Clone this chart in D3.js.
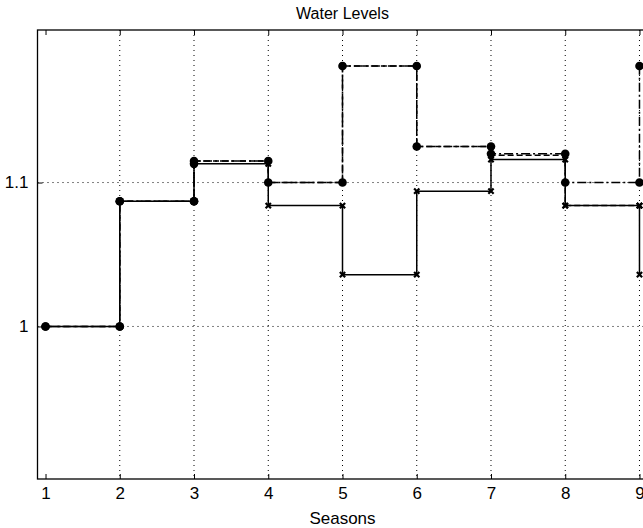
<!DOCTYPE html>
<html>
<head>
<meta charset="utf-8">
<script src="https://cdn.jsdelivr.net/npm/d3@7"></script>
<style>
  body { margin: 0; background: #fff; }
  svg { display: block; font-family: "Liberation Sans", Arial, sans-serif; }
</style>
</head>
<body>
<div id="chart"></div>
<script>
// seasons on the x axis
var seasons = [1, 2, 3, 4, 5, 6, 7, 8, 9];

// water level series
var levelsSolid   = [1, 1.087, 1.113, 1.084, 1.036, 1.094, 1.116, 1.084, 1.036];
var levelsDashed  = [1, 1.087, 1.115, 1.1, 1.181, 1.125, 1.119, 1.084, 1.084];
var levelsDashDot = [1, 1.087, 1.115, 1.1, 1.181, 1.125, 1.120, 1.1, 1.181];

// tick labels
var xTicks = [1, 2, 3, 4, 5, 6, 7, 8, 9];
var yTicks = [1, 1.1];

// plot frame (the right edge runs past the window, as in the picture)
var width = 643, height = 528;
var plotLeft = 37.5, plotRight = 647.5, plotTop = 30, plotBottom = 479;

var svg = d3.select("#chart").append("svg")
  .attr("width", width)
  .attr("height", height);

var x = d3.scaleLinear().domain([0.892, 9.108]).range([plotLeft, plotRight]);
var y = d3.scaleLinear().domain([0.894, 1.206]).range([plotBottom, plotTop]);

// dotted grid
svg.append("g")
  .selectAll("line")
  .data(xTicks.filter(function (d) { return d !== 1; }))
  .enter().append("line")
  .attr("x1", function (d) { return x(d); })
  .attr("x2", function (d) { return x(d); })
  .attr("y1", plotTop).attr("y2", plotBottom)
  .attr("stroke", "#000").attr("stroke-width", 1)
  .attr("stroke-dasharray", "1,4");

svg.append("g")
  .selectAll("line")
  .data(yTicks)
  .enter().append("line")
  .attr("y1", function (d) { return y(d); })
  .attr("y2", function (d) { return y(d); })
  .attr("x1", plotLeft).attr("x2", plotRight)
  .attr("stroke", "#000").attr("stroke-width", 1)
  .attr("stroke-dasharray", "1,4");

// axes with inward ticks
var xAxis = svg.append("g")
  .attr("transform", "translate(0," + plotBottom + ")")
  .call(d3.axisBottom(x).tickValues(xTicks).tickSizeInner(-5).tickSizeOuter(0).tickPadding(8));
var xTop = svg.append("g")
  .attr("transform", "translate(0," + plotTop + ")")
  .call(d3.axisTop(x).tickValues(xTicks).tickSizeInner(-5).tickSizeOuter(0).tickFormat(""));
var yAxis = svg.append("g")
  .attr("transform", "translate(" + plotLeft + ",0)")
  .call(d3.axisLeft(y).tickValues(yTicks).tickSizeInner(-5).tickSizeOuter(0).tickPadding(9)
    .tickFormat(function (d) { return d === 1 ? "1" : d3.format(".1f")(d); }));

[xAxis, xTop, yAxis].forEach(function (g) {
  g.select(".domain").remove();
  g.selectAll(".tick line").attr("stroke", "#000").attr("stroke-width", 1);
  g.selectAll(".tick text")
    .attr("fill", "#000")
    .attr("font-size", 17)
    .attr("font-family", "Liberation Sans, Arial, sans-serif");
});

// frame
svg.append("rect")
  .attr("x", plotLeft).attr("y", plotTop)
  .attr("width", plotRight - plotLeft).attr("height", plotBottom - plotTop)
  .attr("fill", "none").attr("stroke", "#000").attr("stroke-width", 1.3);

// stairs
var stair = d3.line()
  .x(function (d) { return x(d[0]); })
  .y(function (d) { return y(d[1]); })
  .curve(d3.curveStepAfter);

function corners(vals) {
  var pts = [];
  vals.forEach(function (v, i) {
    pts.push([seasons[i], v]);
    if (i < vals.length - 1) pts.push([seasons[i + 1], v]);
  });
  return pts;
}

var series = [
  { name: "solid", values: levelsSolid, dash: null, marker: "x" },
  { name: "dashed", values: levelsDashed, dash: "6,3", marker: "x" },
  { name: "dashdot", values: levelsDashDot, dash: "9,3,2,3", marker: "dot" }
];

series.forEach(function (s) {
  var pts = seasons.map(function (d, i) { return [d, s.values[i]]; });
  svg.append("path")
    .datum(pts)
    .attr("d", stair)
    .attr("fill", "none")
    .attr("stroke", "#000")
    .attr("stroke-width", 1.5)
    .attr("stroke-dasharray", s.dash);
});

// x markers first, dots on top
series.filter(function (s) { return s.marker === "x"; }).forEach(function (s) {
  svg.append("g").selectAll("path")
    .data(corners(s.values).filter(function (d) { return d[0] >= 4; }))
    .enter().append("path")
    .attr("transform", function (d) { return "translate(" + x(d[0]) + "," + y(d[1]) + ")"; })
    .attr("d", d3.symbol().type(d3.symbolTimes).size(20))
    .attr("fill", "none")
    .attr("stroke", "#000")
    .attr("stroke-width", 2.2);
});

series.filter(function (s) { return s.marker === "dot"; }).forEach(function (s) {
  svg.append("g").selectAll("circle")
    .data(corners(s.values))
    .enter().append("circle")
    .attr("cx", function (d) { return x(d[0]); })
    .attr("cy", function (d) { return y(d[1]); })
    .attr("r", 4.3)
    .attr("fill", "#000");
});

// the first three seasons of the solid line carry dots in the picture
svg.append("g").selectAll("circle")
  .data(corners(levelsSolid.slice(0, 3)))
  .enter().append("circle")
  .attr("cx", function (d) { return x(d[0]); })
  .attr("cy", function (d) { return y(d[1]); })
  .attr("r", 4.3)
  .attr("fill", "#000");

// title and axis label
svg.append("text")
  .attr("x", (plotLeft + plotRight) / 2).attr("y", 19)
  .attr("text-anchor", "middle")
  .attr("font-size", 16)
  .text("Water Levels");

svg.append("text")
  .attr("x", (plotLeft + plotRight) / 2).attr("y", 524)
  .attr("text-anchor", "middle")
  .attr("font-size", 17)
  .text("Seasons");
</script>
</body>
</html>
